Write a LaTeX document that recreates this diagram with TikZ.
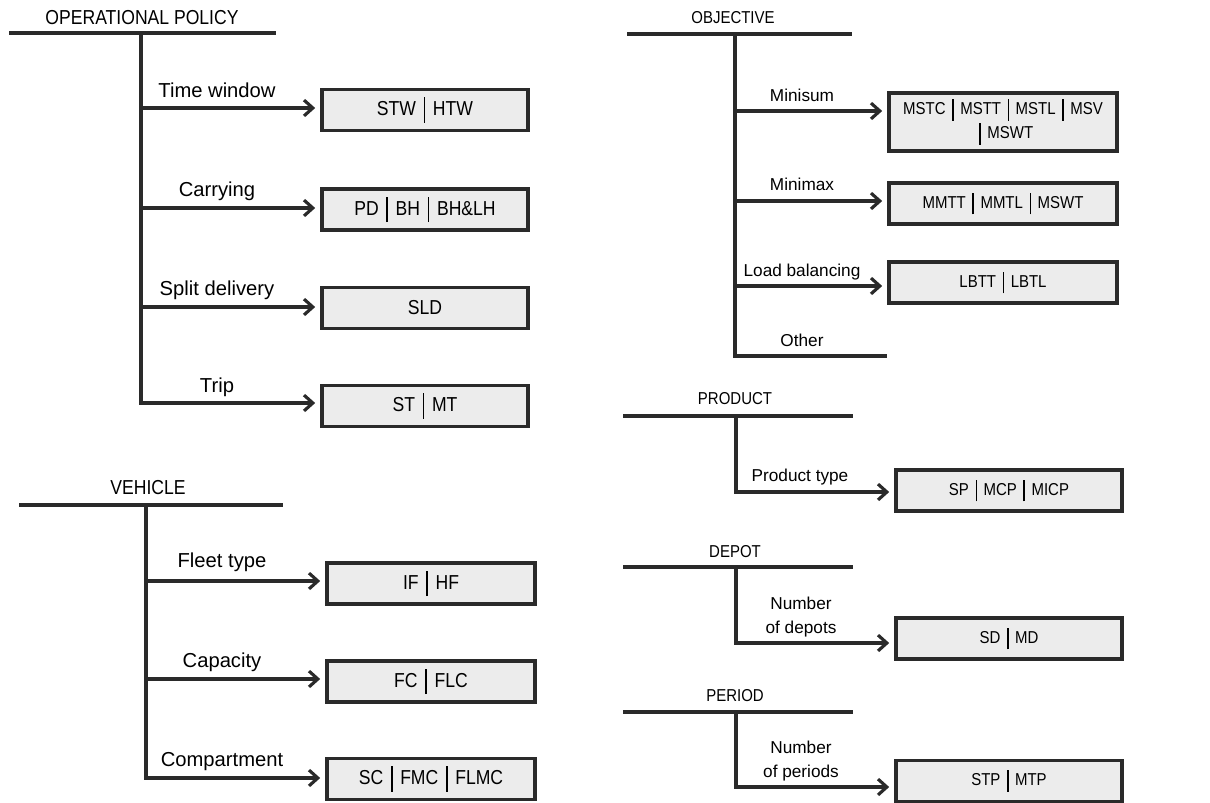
\documentclass[tikz,border=0pt]{standalone}
\usepackage{fontspec}
\setmainfont{Liberation Sans}
\newfontfamily\capsfont[FakeStretch=0.87]{Liberation Sans}
\usepackage{xcolor}
\usetikzlibrary{arrows.meta}
\definecolor{inkgray}{HTML}{2A2A2A}
\definecolor{boxgray}{HTML}{ECECEC}
\newcommand{\sep}{\hspace*{0.38em}\rule[-0.35em]{0.9pt}{1.25em}\hspace*{0.38em}}
\newcommand{\lsz}{\fontsize{11.5}{14}\selectfont}
\newcommand{\rsz}{\fontsize{9.8}{13.6}\selectfont}

\begin{document}
\begin{tikzpicture}[x=0.02cm,y=-0.02cm,
  LineStyle/.style={draw=inkgray,line width=1.8pt},
  ArrowStyle/.style={LineStyle,-{Straight Barb[length=5pt,width=9pt]},shorten >=3pt},
  BoxStyle/.style={draw=inkgray,fill=boxgray,line width=1.8pt,inner sep=2pt,align=center},
  BoxLeft/.style={BoxStyle,minimum width=4.12cm,minimum height=0.82cm,font=\capsfont\lsz},
  BoxRight/.style={BoxStyle,minimum width=4.56cm,minimum height=0.82cm,font=\capsfont\rsz},
  TitleLeft/.style={anchor=south,inner sep=0pt,text depth=0pt,font=\capsfont\lsz},
  TitleRight/.style={anchor=south,inner sep=0pt,text depth=0pt,font=\capsfont\rsz},
  LabelLeft/.style={anchor=south,inner sep=0pt,text depth=0pt,align=center,font=\lsz},
  LabelRight/.style={anchor=south,inner sep=0pt,text depth=0pt,align=center,font=\rsz}]
\useasboundingbox (0,0) rectangle (1210,802);

\node[TitleLeft] (op) at (142,25) {OPERATIONAL POLICY};
\coordinate (opL) at (9,33);
\coordinate (opR) at (276,33);
\coordinate (opT) at (141,33);
\coordinate (op1) at (141,108);
\coordinate (op2) at (141,208);
\coordinate (op3) at (141,307);
\coordinate (op4) at (141,403);
\node[BoxLeft] (stw) at (425,110) {STW\sep HTW};
\node[BoxLeft] (pd) at (425,209.5) {PD\sep BH\sep BH\&LH};
\node[BoxLeft] (sld) at (425,308) {SLD};
\node[BoxLeft] (st) at (425,406) {ST\sep MT};
\node[LabelLeft] (tw) at (217,97.5) {Time window};
\node[LabelLeft] (ca) at (217,197) {Carrying};
\node[LabelLeft] (sd) at (217,296) {Split delivery};
\node[LabelLeft] (tr) at (217,393) {Trip};
\draw[LineStyle] (opL) -- (opR);
\draw[ArrowStyle] (opT) -- (op4) -- (op4 -| st.west);
\draw[ArrowStyle] (op1) -- (op1 -| stw.west);
\draw[ArrowStyle] (op2) -- (op2 -| pd.west);
\draw[ArrowStyle] (op3) -- (op3 -| sld.west);

\node[TitleLeft] (ve) at (148,495) {VEHICLE};
\coordinate (veL) at (19,505);
\coordinate (veR) at (283,505);
\coordinate (veT) at (146,505);
\coordinate (ve1) at (146,581);
\coordinate (ve2) at (146,679);
\coordinate (ve3) at (146,778);
\node[BoxLeft,minimum width=4.16cm] (if) at (431,583.5) {IF\sep HF};
\node[BoxLeft,minimum width=4.16cm] (fc) at (431,681.5) {FC\sep FLC};
\node[BoxLeft,minimum width=4.16cm] (sc) at (431,779) {SC\sep FMC\sep FLMC};
\node[LabelLeft] (ft) at (222,568) {Fleet type};
\node[LabelLeft] (cp) at (222,668) {Capacity};
\node[LabelLeft] (cm) at (222,767) {Compartment};
\draw[LineStyle] (veL) -- (veR);
\draw[ArrowStyle] (veT) -- (ve3) -- (ve3 -| sc.west);
\draw[ArrowStyle] (ve1) -- (ve1 -| if.west);
\draw[ArrowStyle] (ve2) -- (ve2 -| fc.west);

\node[TitleRight] (ob) at (733,24) {OBJECTIVE};
\coordinate (obL) at (627,34);
\coordinate (obR) at (852,34);
\coordinate (obT) at (735,34);
\coordinate (ob1) at (735,111);
\coordinate (ob2) at (735,201);
\coordinate (ob3) at (735,286);
\coordinate (ob4) at (735,356);
\coordinate (obE) at (887,356);
\node[BoxRight,minimum height=1.16cm] (ms) at (1003,122) {MSTC\sep MSTT\sep MSTL\sep MSV\\\sep MSWT};
\node[BoxRight] (mm) at (1003,203.5) {MMTT\sep MMTL\sep MSWT};
\node[BoxRight] (lb) at (1003,282.5) {LBTT\sep LBTL};
\node[LabelRight] (mi) at (802,102) {Minisum};
\node[LabelRight] (mx) at (802,191) {Minimax};
\node[LabelRight] (lo) at (802,277) {Load balancing};
\node[LabelRight] (ot) at (802,347) {Other};
\draw[LineStyle] (obL) -- (obR);
\draw[LineStyle] (obT) -- (ob4) -- (obE);
\draw[ArrowStyle] (ob1) -- (ob1 -| ms.west);
\draw[ArrowStyle] (ob2) -- (ob2 -| mm.west);
\draw[ArrowStyle] (ob3) -- (ob3 -| lb.west);

\node[TitleRight] (pr) at (735,405) {PRODUCT};
\coordinate (prL) at (623,416);
\coordinate (prR) at (853,416);
\coordinate (prT) at (736,416);
\coordinate (pr1) at (736,492);
\node[BoxRight,minimum width=4.52cm] (sp) at (1009,490.5) {SP\sep MCP\sep MICP};
\node[LabelRight] (pt) at (800,482) {Product type};
\draw[LineStyle] (prL) -- (prR);
\draw[ArrowStyle] (prT) -- (pr1) -- (pr1 -| sp.west);

\node[TitleRight] (de) at (735,558) {DEPOT};
\coordinate (deL) at (623,567);
\coordinate (deR) at (853,567);
\coordinate (deT) at (736,567);
\coordinate (de1) at (736,643);
\node[BoxRight,minimum width=4.52cm] (smd) at (1009,638.5) {SD\sep MD};
\node[LabelRight] (nd) at (801,634) {Number\\of depots};
\draw[LineStyle] (deL) -- (deR);
\draw[ArrowStyle] (deT) -- (de1) -- (de1 -| smd.west);

\node[TitleRight] (pe) at (735,702) {PERIOD};
\coordinate (peL) at (623,712);
\coordinate (peR) at (853,712);
\coordinate (peT) at (736,712);
\coordinate (pe1) at (736,787);
\node[BoxRight,minimum width=4.52cm] (stp) at (1009,781) {STP\sep MTP};
\node[LabelRight] (np) at (801,778) {Number\\of periods};
\draw[LineStyle] (peL) -- (peR);
\draw[ArrowStyle] (peT) -- (pe1) -- (pe1 -| stp.west);
\end{tikzpicture}
\end{document}
